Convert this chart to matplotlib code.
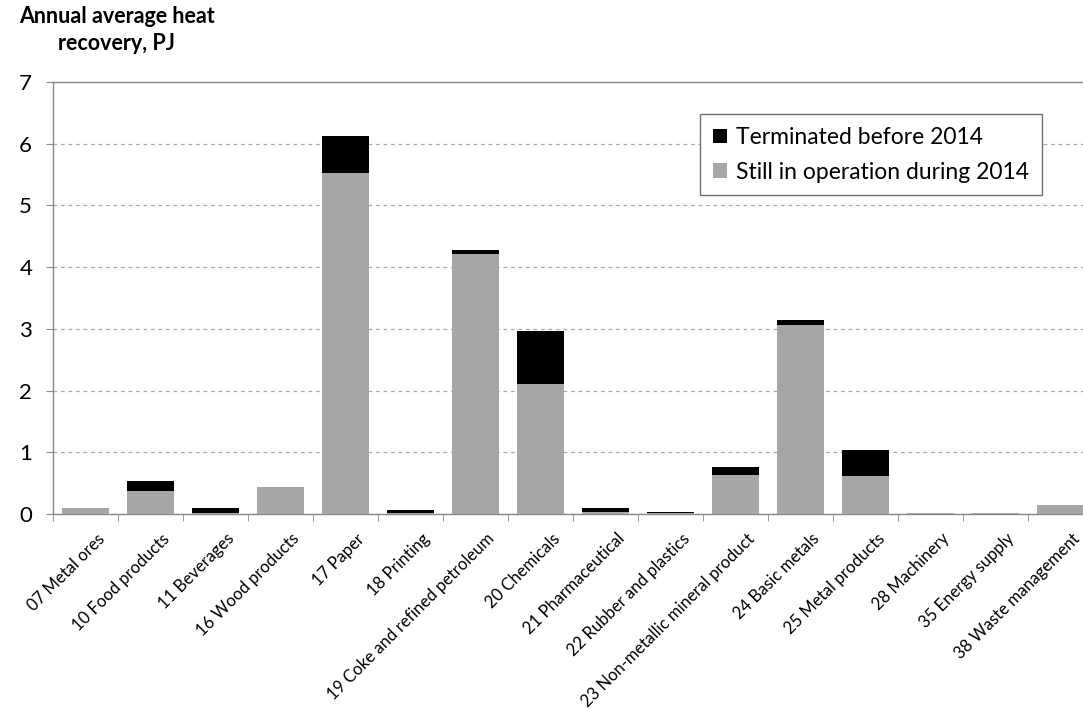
import matplotlib
matplotlib.use("Agg")
import matplotlib.pyplot as plt
import matplotlib.transforms as mtransforms
import numpy as np
from matplotlib.patches import Patch

plt.rcParams['font.family'] = ['Lato', 'DejaVu Sans']

categories = ["07 Metal ores", "10 Food products", "11 Beverages", "16 Wood products",
              "17 Paper", "18 Printing", "19 Coke and refined petroleum", "20 Chemicals",
              "21 Pharmaceutical", "22 Rubber and plastics", "23 Non-metallic mineral product",
              "24 Basic metals", "25 Metal products", "28 Machinery", "35 Energy supply",
              "38 Waste management"]
still_operating = [0.10, 0.38, 0.01, 0.43, 5.52, 0.01, 4.21, 2.10, 0.03, 0.01, 0.64,
                   3.06, 0.62, 0.01, 0.01, 0.14]
terminated = [0.00, 0.15, 0.09, 0.00, 0.60, 0.05, 0.07, 0.87, 0.07, 0.02, 0.12,
              0.09, 0.42, 0.00, 0.00, 0.00]
yticks = [0, 1, 2, 3, 4, 5, 6, 7]

GRAY = "#A6A6A6"
BLACK = "#000000"

fig = plt.figure(figsize=(10.83, 7.09), dpi=100)
ax = fig.add_axes([53 / 1083, (709 - 514) / 709, 1040 / 1083, (514 - 82) / 709])

x = np.arange(len(categories))
ax.bar(x, still_operating, width=0.72, color=GRAY, zorder=3)
ax.bar(x, terminated, width=0.72, bottom=still_operating, color=BLACK, zorder=3)

ax.set_xlim(-0.5, len(categories) - 0.5)
ax.set_ylim(0, 7)
ax.set_yticks(yticks)
ax.set_yticklabels([str(v) for v in yticks], fontsize=16)
ax.yaxis.grid(True, linestyle=(0, (3, 3)), color="#A8A8A8", linewidth=0.9, zorder=0)

for side in ["left", "bottom", "top"]:
    ax.spines[side].set_color("#888888")
    ax.spines[side].set_linewidth(1.0)
ax.spines["right"].set_visible(False)

ax.tick_params(axis="y", length=5, color="#888888", pad=10)
ax.set_xticks(x)
ax.set_xticklabels(categories, rotation=45, ha="right", rotation_mode="anchor", fontsize=12)
ax.tick_params(axis="x", length=0, pad=12)
ax.set_xticks(np.arange(-0.5, len(categories), 1.0), minor=True)
ax.tick_params(axis="x", which="minor", length=5, color="#888888")

# nudge rotated category labels so their ends sit just right of each bar centre
shift = mtransforms.ScaledTranslation(11 / 100, 0, fig.dpi_scale_trans)
for lbl in ax.get_xticklabels():
    lbl.set_transform(lbl.get_transform() + shift)

fig.text(117 / 1083, 1 - 30 / 709, "Annual average heat\nrecovery, PJ", ha="center", va="center",
         fontsize=15.5, fontweight="bold", linespacing=1.4)

handles = [Patch(facecolor=BLACK, label="Terminated before 2014"),
           Patch(facecolor=GRAY, label="Still in operation during 2014")]
leg = ax.legend(handles=handles, loc="upper left", bbox_to_anchor=(636 / 1040, 1 - 21 / 432),
                fontsize=16.5, frameon=True, fancybox=False, edgecolor="#707070",
                handlelength=0.6, handleheight=0.6, handletextpad=0.4, borderpad=0.55,
                labelspacing=0.6, framealpha=1)
leg.get_frame().set_linewidth(1.0)

fig.savefig("out.png", dpi=100, facecolor="white")
